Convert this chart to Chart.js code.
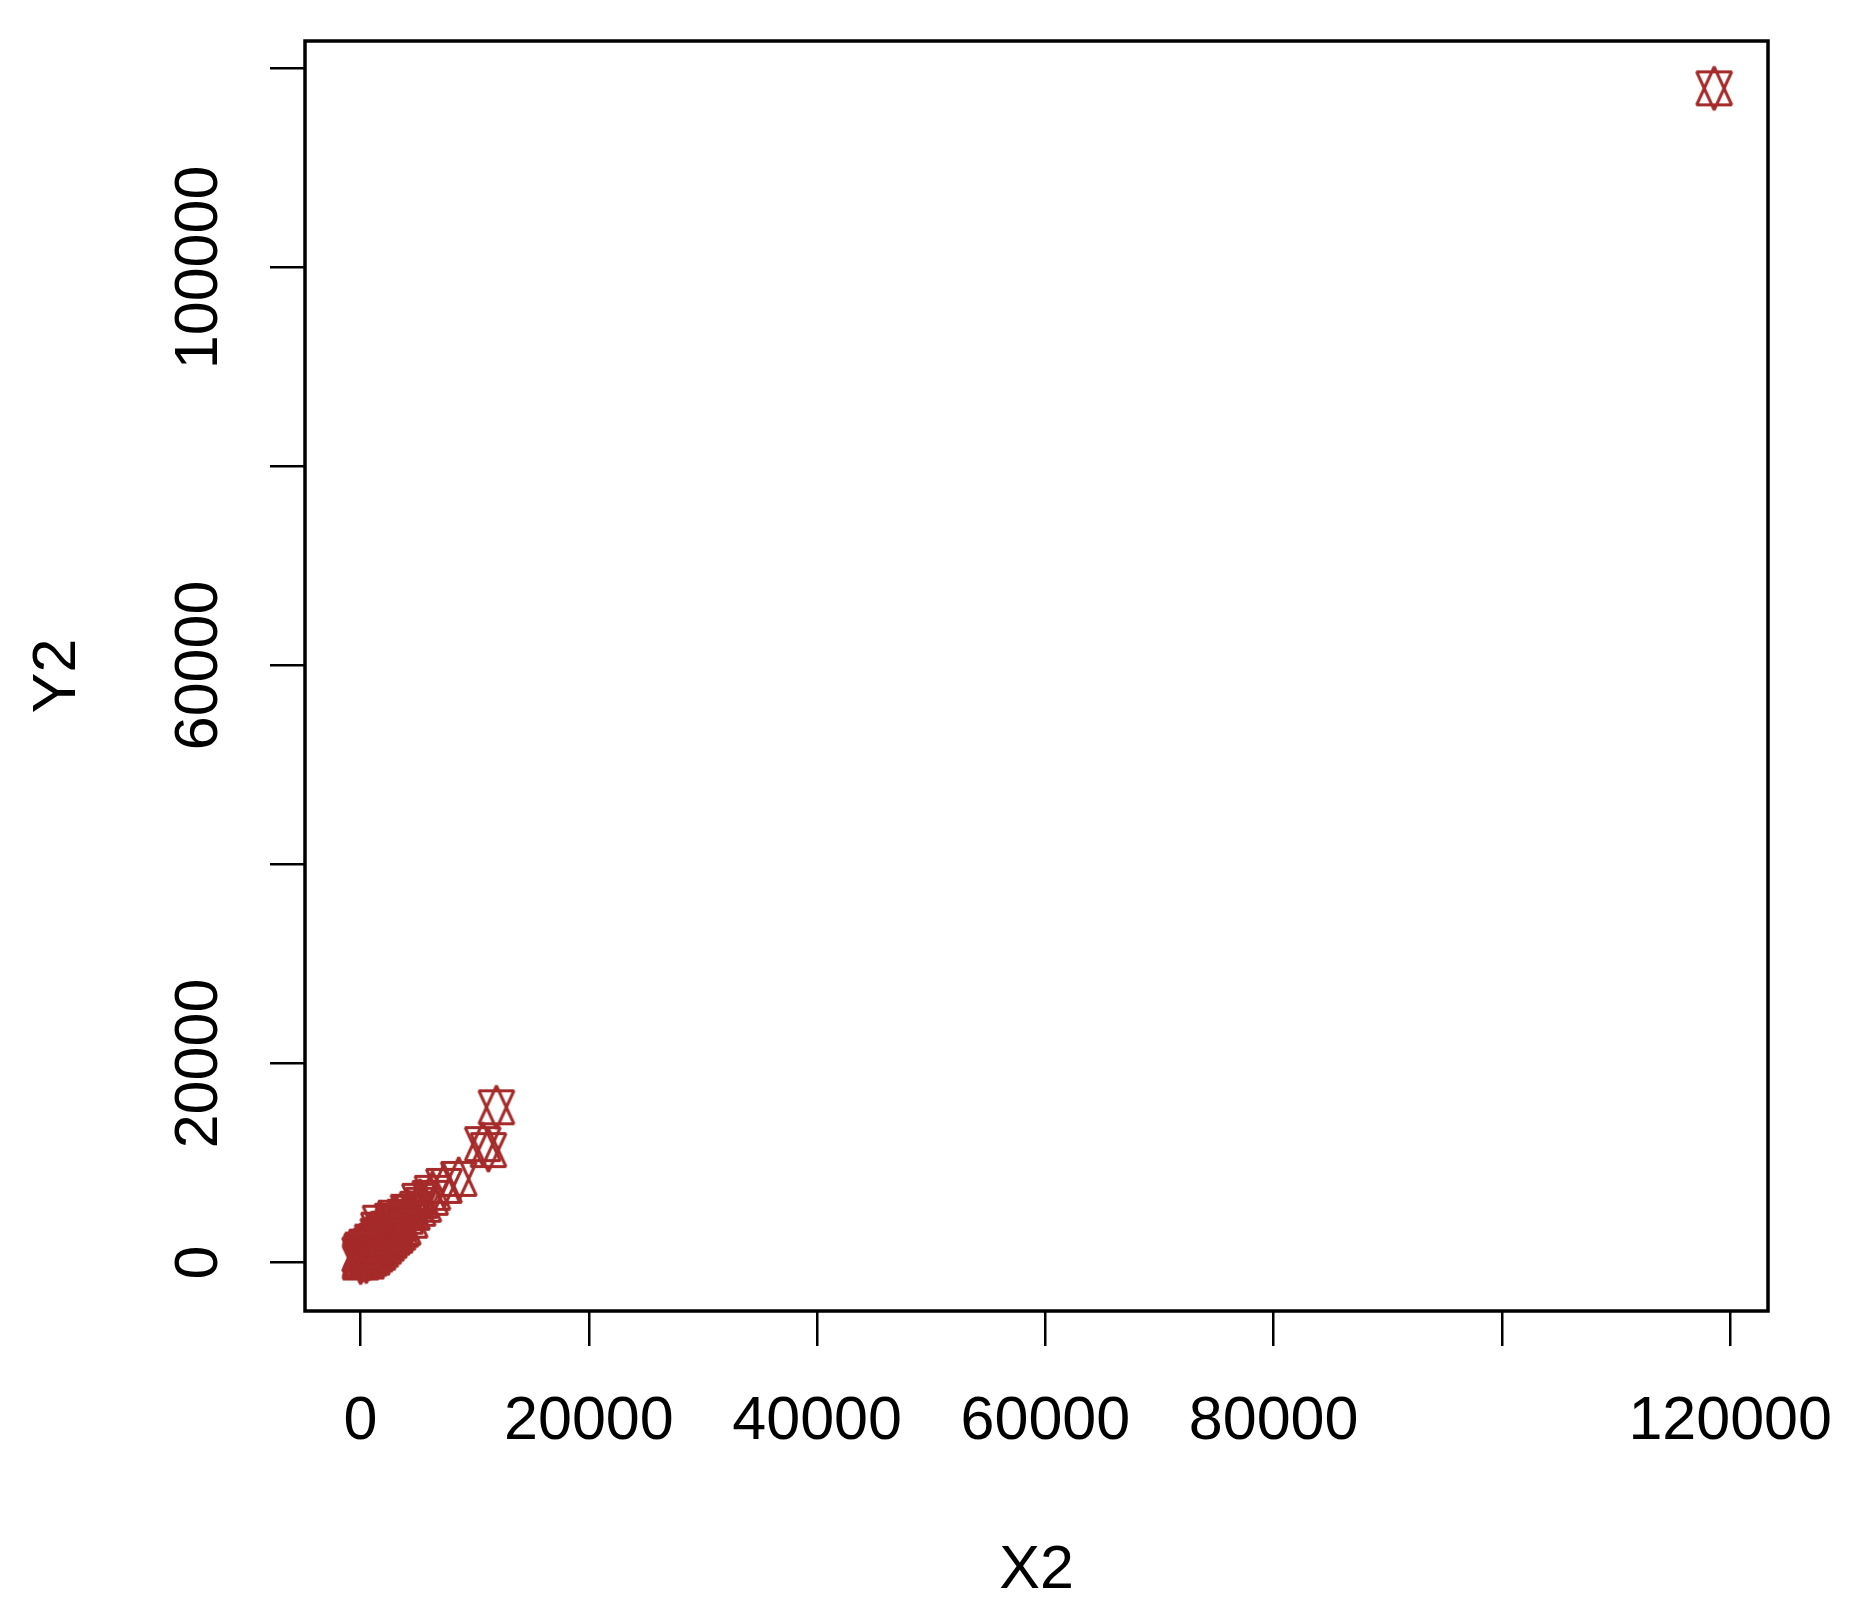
<!DOCTYPE html>
<html>
<head>
<meta charset="utf-8">
<script src="https://cdn.jsdelivr.net/npm/chart.js@4.4.1/dist/chart.umd.min.js"></script>
<style>
  html, body { margin: 0; padding: 0; background: #ffffff; }
  #wrap { width: 1854px; height: 1619px; }
</style>
</head>
<body>
<div id="wrap"><canvas id="c" width="1854" height="1619"></canvas></div>
<script>
// ---- data ----
const X2 = [
  118600,
  11900, 10700, 11200, 8600, 7300,
  6300, 6100, 5200, 5500, 4500, 4200, 3900, 3100, 2800, 1750, 1600, 3300, 4300, 5000,
  0, 50, -50, 100, 0,
  500, 500, 450, 550,
  1000, 1000, 950, 1050,
  1500, 1500, 1450, 1550,
  2000, 2000, 1950, 2050,
  2500, 2500, 2450,
  3000, 3000,
  3500, 3700,
  250, 250, 750, 750, 750, 1250, 1250, 1250, 1750, 1750, 1750, 2250, 2250, 2250, 2750, 2750, 3250, 200
];
const Y2 = [
  118000,
  15600, 11900, 11300, 8400, 7700,
  7000, 6500, 6200, 5800, 5000, 5100, 4600, 4500, 4200, 4000, 3300, 3900, 4200, 5400,
  0, 400, 800, 1100, 200,
  100, 700, 1300, 1600,
  500, 1100, 1700, 2100,
  1000, 1600, 2200, 2700,
  1600, 2200, 2800, 3200,
  2200, 2800, 3400,
  2700, 3300,
  3300, 3500,
  300, 900, 400, 1000, 1500, 800, 1400, 2000, 1300, 1900, 2500, 1900, 2500, 3100, 2500, 3100, 3000, 1300
];
const xTicks = [0, 20000, 40000, 60000, 80000, 100000, 120000];
const xTickLabels = ['0', '20000', '40000', '60000', '80000', '', '120000'];
const yTicks = [0, 20000, 40000, 60000, 80000, 100000, 120000];
const yTickLabels = ['0', '20000', '', '60000', '', '100000', ''];
const xTitle = 'X2';
const yTitle = 'Y2';

// ---- styling ----
const COLOR = '#A52A2A';
const FONT = { family: '"Liberation Sans", Arial, sans-serif', size: 61 };

// marker: two triangles, up and down (R pch 11 look)
function makeMarker() {
  const c = document.createElement('canvas');
  c.width = 42; c.height = 52;
  const g = c.getContext('2d');
  const cx = 21, cy = 26, hw = 17.5, bar = 16.5, apex = 21.5;
  g.strokeStyle = COLOR;
  g.lineWidth = 3;
  g.lineJoin = 'bevel';
  g.beginPath();
  g.moveTo(cx, cy - apex); g.lineTo(cx + hw, cy + bar); g.lineTo(cx - hw, cy + bar); g.closePath();
  g.stroke();
  g.beginPath();
  g.moveTo(cx, cy + apex); g.lineTo(cx + hw, cy - bar); g.lineTo(cx - hw, cy - bar); g.closePath();
  g.stroke();
  return c;
}
const marker = makeMarker();

const points = X2.map((x, i) => ({ x: x, y: Y2[i] }));

const boxPlugin = {
  id: 'box',
  afterDatasetsDraw(chart) {
    const a = chart.chartArea, ctx = chart.ctx;
    ctx.save();
    ctx.strokeStyle = '#000';
    ctx.lineWidth = 3.5;
    ctx.strokeRect(a.left, a.top, a.right - a.left, a.bottom - a.top);
    ctx.restore();
  }
};

new Chart(document.getElementById('c'), {
  type: 'scatter',
  data: {
    datasets: [{
      data: points,
      pointStyle: marker,
      pointRadius: 15,
      borderColor: COLOR,
      backgroundColor: COLOR
    }]
  },
  options: {
    responsive: false,
    animation: false,
    events: [],
    layout: { padding: { top: 41, right: 86, left: 0, bottom: 0 } },
    plugins: { legend: { display: false }, tooltip: { enabled: false } },
    scales: {
      x: {
        type: 'linear',
        min: -4870, max: 123316,
        afterBuildTicks: s => { s.ticks = xTicks.map(v => ({ value: v })); },
        afterFit: s => { s.height = 308; s.paddingLeft = 0; s.paddingRight = 0; },
        ticks: {
          autoSkip: false, maxRotation: 0, minRotation: 0,
          color: '#000', font: FONT, padding: 40,
          callback: (v) => { const i = xTicks.indexOf(v); return i >= 0 ? xTickLabels[i] : ''; }
        },
        grid: { drawOnChartArea: false, drawTicks: true, tickLength: 35, color: '#000', lineWidth: 2.5 },
        border: { display: false },
        title: { display: true, text: xTitle, color: '#000', font: FONT, padding: { top: 0, bottom: 11 } }
      },
      y: {
        type: 'linear',
        min: -4872, max: 122757,
        afterBuildTicks: s => { s.ticks = yTicks.map(v => ({ value: v })); },
        afterFit: s => { s.width = 305; s.paddingTop = 0; s.paddingBottom = 0; },
        ticks: {
          autoSkip: false, minRotation: 90, maxRotation: 90, crossAlign: 'center',
          color: '#000', font: FONT, padding: -32,
          callback: (v) => { const i = yTicks.indexOf(v); return i >= 0 ? yTickLabels[i] : ''; }
        },
        grid: { drawOnChartArea: false, drawTicks: true, tickLength: 35, color: '#000', lineWidth: 2.5 },
        border: { display: false },
        title: { display: true, text: yTitle, color: '#000', font: FONT, padding: { top: 22, bottom: 0 } }
      }
    }
  },
  plugins: [boxPlugin]
});
</script>
</body>
</html>
